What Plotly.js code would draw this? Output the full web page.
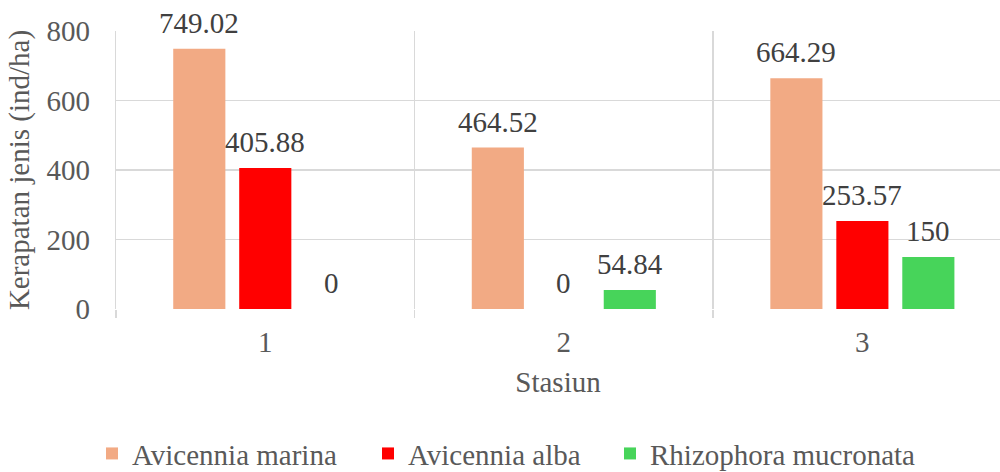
<!DOCTYPE html>
<html>
<head>
<meta charset="utf-8">
<script src="https://cdn.plot.ly/plotly-3.0.1.min.js"></script>
<style>html,body{margin:0;padding:0;background:#fff;overflow:hidden;}#chart{width:1000px;height:472px;}</style>
</head>
<body>
<div id="chart"></div>
<script>
const categories = ["1", "2", "3"];
const seriesNames = ["Avicennia marina", "Avicennia alba", "Rhizophora mucronata"];
const avicenniaMarina = [749.02, 464.52, 664.29];
const avicenniaAlba = [405.88, 0, 253.57];
const rhizophoraMucronata = [0, 54.84, 150];
const yTicks = [0, 200, 400, 600, 800];
const xTitle = "Stasiun";
const yTitle = "Kerapatan jenis (ind/ha)";

const seriesValues = [avicenniaMarina, avicenniaAlba, rhizophoraMucronata];
const colors = ["#F2AA84", "#FF0000", "#47D45A"];
const legendIds = ["legend", "legend2", "legend3"];
const FONT = "Liberation Serif, Times New Roman, serif";
const FS = 29;

const traces = seriesValues.map((vals, i) => ({
  type: "bar",
  name: seriesNames[i],
  x: categories,
  y: vals,
  marker: {color: colors[i]},
  legend: legendIds[i],
  hoverinfo: "none"
}));

const slotPx = 66;
const annotations = [];
seriesValues.forEach((vals, i) => {
  vals.forEach((v, k) => {
    annotations.push({
      x: k, y: v, xref: "x", yref: "y",
      text: String(v), showarrow: false,
      xanchor: "center", yanchor: "bottom",
      xshift: (i - 1) * slotPx, yshift: 8,
      font: {family: FONT, size: FS, color: "#404040"}
    });
  });
});

const legendBase = {
  orientation: "h", yanchor: "middle", xanchor: "left",
  xref: "container", yref: "container", y: 0.039,
  font: {family: FONT, size: FS, color: "#595959"},
  bgcolor: "rgba(0,0,0,0)", borderwidth: 0
};

const layout = {
  width: 1000, height: 472,
  margin: {l: 116, r: 0, t: 31, b: 163, pad: 0, autoexpand: false},
  paper_bgcolor: "#ffffff", plot_bgcolor: "#ffffff",
  barmode: "group", bargap: 0.337, bargroupgap: 0.21,
  font: {family: FONT, size: FS, color: "#595959"},
  showlegend: true,
  legend: Object.assign({}, legendBase, {x: 0.092}),
  legend2: Object.assign({}, legendBase, {x: 0.368}),
  legend3: Object.assign({}, legendBase, {x: 0.610}),
  xaxis: {
    type: "category", range: [-0.5, 2.461], fixedrange: true,
    tickson: "boundaries", ticks: "outside", ticklen: 8, tickwidth: 1.3, tickcolor: "#d9d9d9",
    showgrid: true, gridcolor: "#d9d9d9", gridwidth: 1.3,
    showline: false, zeroline: false,
    tickfont: {family: FONT, size: FS, color: "#595959"},
    ticklabelstandoff: 13,
    title: {text: xTitle, font: {family: FONT, size: FS, color: "#595959"}, standoff: 14},
    automargin: false
  },
  yaxis: {
    range: [0, 800], tickvals: yTicks, fixedrange: true,
    showgrid: true, gridcolor: "#d9d9d9", gridwidth: 1.3,
    zeroline: false, showline: true, linecolor: "#d9d9d9", linewidth: 1.3,
    ticks: "", ticklabelstandoff: 19,
    tickfont: {family: FONT, size: FS, color: "#595959"},
    title: {text: yTitle, font: {family: FONT, size: FS, color: "#595959"}, standoff: 8},
    automargin: false
  },
  annotations: annotations
};

Plotly.newPlot("chart", traces, layout, {displayModeBar: false, staticPlot: true});
</script>
</body>
</html>
